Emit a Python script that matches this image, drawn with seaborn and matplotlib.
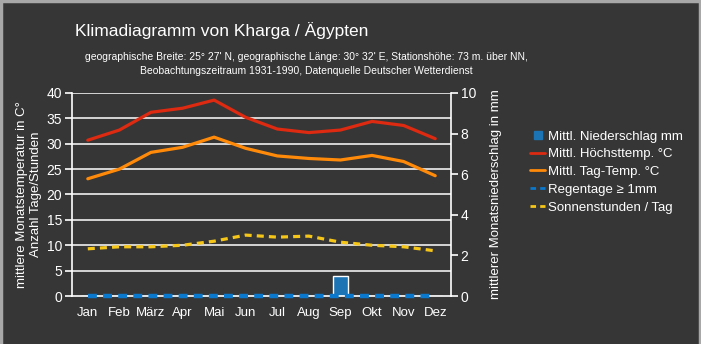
import matplotlib
matplotlib.use("Agg")
import matplotlib.pyplot as plt
from matplotlib.lines import Line2D
import seaborn as sns
import pandas as pd
import numpy as np

months = ["Jan", "Feb", "März", "Apr", "Mai", "Jun", "Jul", "Aug", "Sep", "Okt", "Nov", "Dez"]
hoechst = [30.7, 32.7, 36.2, 37.0, 38.6, 35.2, 32.9, 32.2, 32.7, 34.4, 33.6, 31.0]
tag_temp = [23.1, 25.0, 28.3, 29.3, 31.3, 29.1, 27.6, 27.1, 26.8, 27.7, 26.5, 23.7]
sonne = [9.3, 9.7, 9.7, 10.0, 10.8, 12.0, 11.6, 11.8, 10.6, 10.0, 9.7, 8.9]
regentage = [0, 0, 0, 0, 0, 0, 0, 0, 0, 0, 0, 0]
niederschlag = [0, 0, 0, 0, 0, 0, 0, 0, 1, 0, 0, 0]

df = pd.DataFrame({"Monat": months, "i": range(12), "hoechst": hoechst, "tag": tag_temp,
                   "sonne": sonne, "regen": regentage, "nied": niederschlag})

sns.set_theme(style="dark")
plt.rcParams["font.family"] = ["Liberation Sans", "DejaVu Sans"]

BG = "#363636"
fig = plt.figure(figsize=(7.01, 3.44), dpi=100, facecolor=BG)
ax = fig.add_axes([72/701, 1-296/344, (451-72)/701, (296-93)/344])
ax.set_facecolor("none")
ax2 = ax.twinx()
ax.set_zorder(2)
ax2.set_zorder(1)
ax2.set_facecolor(BG)

# precipitation bars on right axis
sns.barplot(data=df, x="Monat", y="nied", ax=ax2, color="#1c74b5", width=0.45,
            saturation=1, order=months)
ax2.set_ylim(0, 10)
ax2.set_xlim(-0.5, 11.5)

# grid
for v in range(5, 45, 5):
    ax.axhline(v, color="white", lw=1.1, zorder=1)

sns.lineplot(data=df, x="i", y="hoechst", ax=ax, color="#dd2a10", lw=2.3, zorder=3)
sns.lineplot(data=df, x="i", y="tag", ax=ax, color="#ff8a0a", lw=2.3, zorder=3)
l_regen = sns.lineplot(data=df, x="i", y="regen", ax=ax, color="#0a78cc", lw=3.2, zorder=4,
                       linestyle=(0, (2.0, 1.4))).lines[-1]
l_regen.set_clip_on(False)
l_regen.set_solid_capstyle("butt")
sns.lineplot(data=df, x="i", y="sonne", ax=ax, color="#f5c518", lw=2.3, zorder=4,
             linestyle=(0, (2.2, 1.6)))

ax.set_xlim(-0.5, 11.5)
ax.set_ylim(0, 40)
ax.set_yticks(range(0, 45, 5))
ax.set_xticks(np.arange(-0.5, 12, 1), minor=False)
ax.set_xticklabels([])
ax.set_xticks(range(12), minor=True)
ax.set_xticklabels(months, minor=True)
ax.tick_params(axis="x", which="major", length=6, width=1.2, color="white", direction="out")
ax.tick_params(axis="x", which="minor", length=0, labelsize=9.5, labelcolor="white", pad=8)
ax.tick_params(axis="y", length=5, width=1.2, color="white", labelsize=10, labelcolor="white", pad=2)
ax.set_xlabel("")
ax.set_ylabel("mittlere Monatstemperatur in C°\nAnzahl Tage/Stunden", color="white",
              fontsize=9.5, labelpad=3, linespacing=1.3)
for s in ["left", "bottom"]:
    ax.spines[s].set_visible(True)
    ax.spines[s].set_color("white")
    ax.spines[s].set_linewidth(1.2)
for s in ["top", "right"]:
    ax.spines[s].set_visible(False)

ax2.set_yticks(range(0, 12, 2))
ax2.tick_params(axis="y", length=5, width=1.2, color="white", labelsize=10, labelcolor="white", pad=2, right=True)
ax2.set_ylabel("mittlerer Monatsniederschlag in mm", color="white", fontsize=9.5, labelpad=10)
ax2.set_xlabel("")
ax2.tick_params(axis="x", length=0, labelbottom=False)
for s in ["left", "bottom", "top"]:
    ax2.spines[s].set_visible(False)
ax2.spines["right"].set_visible(True)
ax2.spines["right"].set_color("white")
ax2.spines["right"].set_linewidth(1.2)
ax2.grid(False)
ax.grid(False)

handles = [
    Line2D([], [], marker="s", color="none", markerfacecolor="#1c74b5", markeredgecolor="#1c74b5", markersize=6),
    Line2D([], [], color="#dd2a10", lw=2),
    Line2D([], [], color="#ff8a0a", lw=2),
    Line2D([], [], color="#0a78cc", lw=2, linestyle=(0, (2, 1.5))),
    Line2D([], [], color="#f5c518", lw=2, linestyle=(0, (2, 1.5))),
]
labels = ["Mittl. Niederschlag mm", "Mittl. Höchsttemp. °C", "Mittl. Tag-Temp. °C",
          "Regentage ≥ 1mm", "Sonnenstunden / Tag"]
fig.legend(handles, labels, loc="upper left", bbox_to_anchor=(525/701, 1-125/344),
           frameon=False, fontsize=9.5, labelcolor="white", handlelength=1.1,
           handletextpad=0.25, labelspacing=0.42, borderaxespad=0)

fig.text(75/701, 1-31/344, "Klimadiagramm von Kharga / Ägypten", color="white",
         fontsize=12.5, ha="left", va="center")
fig.text(306/701, 1-57/344,
         "geographische Breite: 25° 27' N, geographische Länge: 30° 32' E, Stationshöhe: 73 m. über NN,",
         color="white", fontsize=7.5, ha="center", va="center")
fig.text(306/701, 1-71/344,
         "Beobachtungszeitraum 1931-1990, Datenquelle Deutscher Wetterdienst",
         color="white", fontsize=7.5, ha="center", va="center")

# border
for r in [plt.Line2D([0.0015, 0.0015], [0, 1], color="#a8a8a8", lw=2.5, transform=fig.transFigure),
          plt.Line2D([0, 1], [0.997, 0.997], color="#a8a8a8", lw=2.5, transform=fig.transFigure),
          plt.Line2D([0.9985, 0.9985], [0, 1], color="#a8a8a8", lw=2.5, transform=fig.transFigure)]:
    fig.add_artist(r)

fig.savefig("out.png", dpi=100, facecolor=BG)
